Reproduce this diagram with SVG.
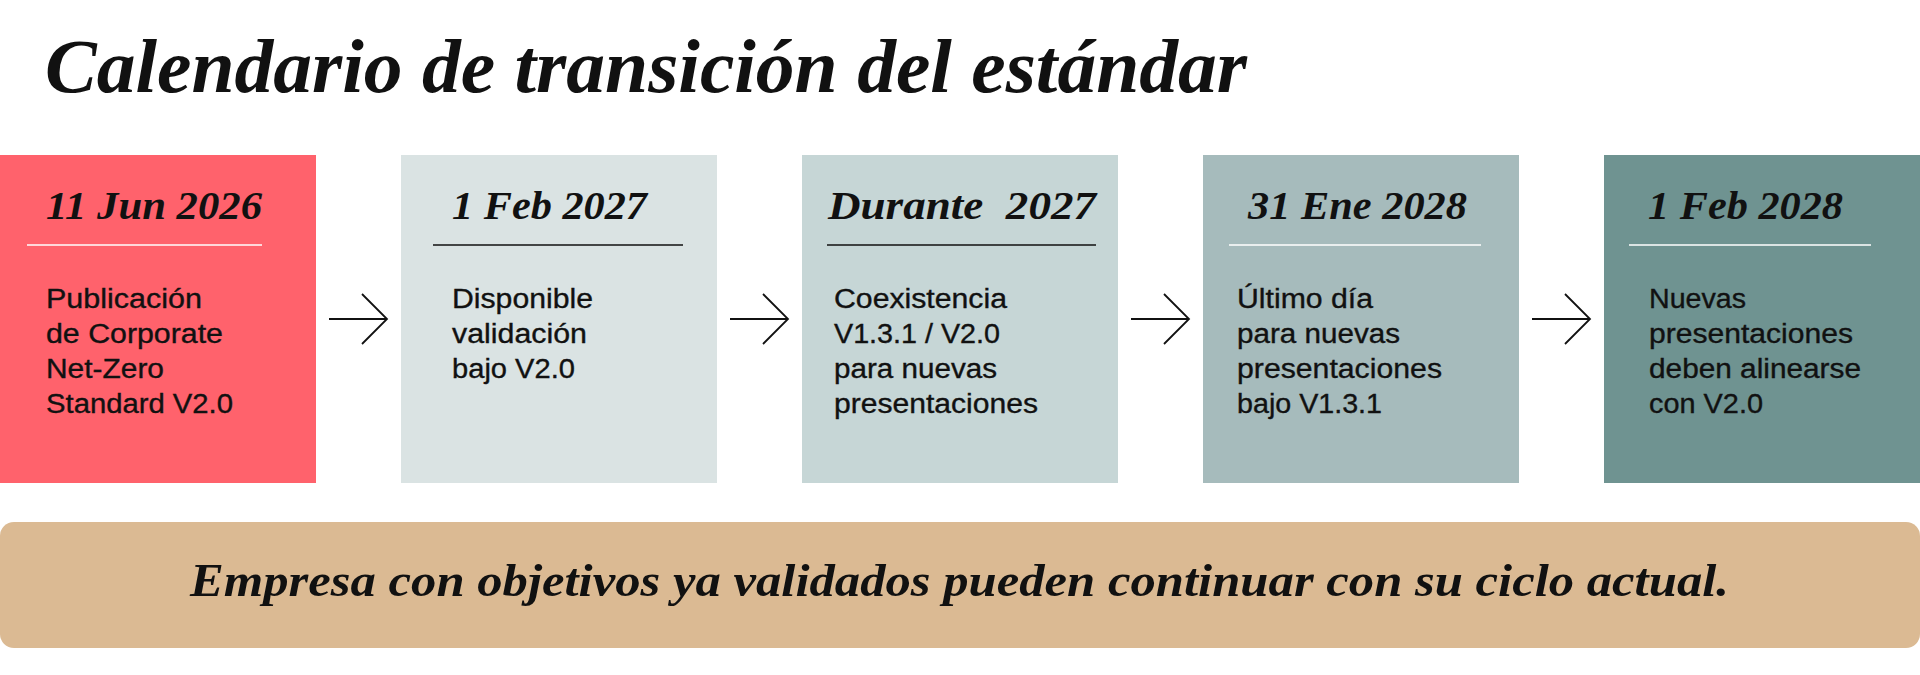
<svg xmlns="http://www.w3.org/2000/svg" width="1920" height="675" viewBox="0 0 1920 675">
<style>
.title{font-family:"Liberation Serif",serif;font-weight:bold;font-style:italic;font-size:76px;fill:#111}
.date{font-family:"Liberation Serif",serif;font-weight:bold;font-style:italic;font-size:40px;fill:#111}
.body{font-family:"Liberation Sans",Arial,sans-serif;font-size:27px;fill:#111;stroke:#111;stroke-width:0.35}
.note{font-family:"Liberation Serif",serif;font-weight:bold;font-style:italic;font-size:46px;fill:#111}
.sepw{stroke:#ffffff;stroke-width:1.5}
.sepb{stroke:#111;stroke-width:1.5}
.arrow{fill:none;stroke:#111;stroke-width:1.8}
</style>
<defs>
<path id="arr" d="M0,0 H58 M33,-25 L58,0 L33,25"/>
</defs>
<rect width="1920" height="675" fill="#ffffff"/>
<text class="title" x="45" y="92" textLength="1202" lengthAdjust="spacingAndGlyphs">Calendario de transición del estándar</text>

<g id="node1">
<rect x="0" y="155" width="316" height="328" fill="#FF626C"/>
<text class="date" x="46" y="219" textLength="216" lengthAdjust="spacingAndGlyphs">11 Jun 2026</text>
<line class="sepw" x1="27" y1="245" x2="262" y2="245"/>
<text class="body" x="46" y="308" textLength="156" lengthAdjust="spacingAndGlyphs">Publicación</text>
<text class="body" x="46" y="343" textLength="177" lengthAdjust="spacingAndGlyphs">de Corporate</text>
<text class="body" x="46" y="378" textLength="118" lengthAdjust="spacingAndGlyphs">Net-Zero</text>
<text class="body" x="46" y="413" textLength="187" lengthAdjust="spacingAndGlyphs">Standard V2.0</text>
</g>

<g id="node2">
<rect x="401" y="155" width="316" height="328" fill="#DAE3E3"/>
<text class="date" x="452" y="219" textLength="195" lengthAdjust="spacingAndGlyphs">1 Feb 2027</text>
<line class="sepb" x1="433" y1="245" x2="683" y2="245"/>
<text class="body" x="452" y="308" textLength="141" lengthAdjust="spacingAndGlyphs">Disponible</text>
<text class="body" x="452" y="343" textLength="135" lengthAdjust="spacingAndGlyphs">validación</text>
<text class="body" x="452" y="378" textLength="123" lengthAdjust="spacingAndGlyphs">bajo V2.0</text>
</g>

<g id="node3">
<rect x="802" y="155" width="316" height="328" fill="#C6D6D6"/>
<text class="date" x="828" y="219" textLength="268" lengthAdjust="spacingAndGlyphs" xml:space="preserve">Durante  2027</text>
<line class="sepb" x1="827" y1="245" x2="1096" y2="245"/>
<text class="body" x="834" y="308" textLength="173" lengthAdjust="spacingAndGlyphs">Coexistencia</text>
<text class="body" x="834" y="343" textLength="166" lengthAdjust="spacingAndGlyphs">V1.3.1 / V2.0</text>
<text class="body" x="834" y="378" textLength="163" lengthAdjust="spacingAndGlyphs">para nuevas</text>
<text class="body" x="834" y="413" textLength="204" lengthAdjust="spacingAndGlyphs">presentaciones</text>
</g>

<g id="node4">
<rect x="1203" y="155" width="316" height="328" fill="#A6BBBC"/>
<text class="date" x="1248" y="219" textLength="219" lengthAdjust="spacingAndGlyphs">31 Ene 2028</text>
<line class="sepw" x1="1229" y1="245" x2="1481" y2="245"/>
<text class="body" x="1237" y="308" textLength="136" lengthAdjust="spacingAndGlyphs">Último día</text>
<text class="body" x="1237" y="343" textLength="163" lengthAdjust="spacingAndGlyphs">para nuevas</text>
<text class="body" x="1237" y="378" textLength="205" lengthAdjust="spacingAndGlyphs">presentaciones</text>
<text class="body" x="1237" y="413" textLength="145" lengthAdjust="spacingAndGlyphs">bajo V1.3.1</text>
</g>

<g id="node5">
<rect x="1604" y="155" width="316" height="328" fill="#6F9391"/>
<text class="date" x="1648" y="219" textLength="195" lengthAdjust="spacingAndGlyphs">1 Feb 2028</text>
<line class="sepw" x1="1629" y1="245" x2="1871" y2="245"/>
<text class="body" x="1649" y="308" textLength="97" lengthAdjust="spacingAndGlyphs">Nuevas</text>
<text class="body" x="1649" y="343" textLength="204" lengthAdjust="spacingAndGlyphs">presentaciones</text>
<text class="body" x="1649" y="378" textLength="212" lengthAdjust="spacingAndGlyphs">deben alinearse</text>
<text class="body" x="1649" y="413" textLength="114" lengthAdjust="spacingAndGlyphs">con V2.0</text>
</g>

<g id="connectors">
<use href="#arr" class="arrow" x="329" y="319"/>
<use href="#arr" class="arrow" x="730" y="319"/>
<use href="#arr" class="arrow" x="1131" y="319"/>
<use href="#arr" class="arrow" x="1532" y="319"/>
</g>

<g id="note">
<rect x="0" y="522" width="1920" height="126" rx="14" ry="14" fill="#DBBA93"/>
<text class="note" x="190" y="596" textLength="1539" lengthAdjust="spacingAndGlyphs">Empresa con objetivos ya validados pueden continuar con su ciclo actual.</text>
</g>
</svg>
